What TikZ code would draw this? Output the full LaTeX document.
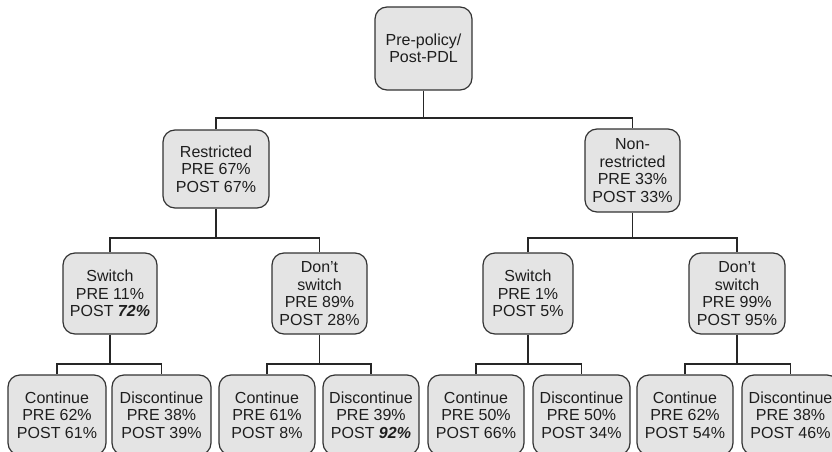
\documentclass[tikz,border=0pt]{standalone}
\usepackage{fontspec}
\setmainfont{Liberation Sans}
\definecolor{boxfill}{HTML}{E4E4E4}
\definecolor{boxline}{HTML}{333333}
\definecolor{txt}{HTML}{1E1E1E}
\tikzset{
  nbox/.style={draw=boxline, fill=boxfill, line width=1.2pt, rounded corners=12pt,
    align=center, inner sep=0pt, text=txt,
    font=\fontsize{16}{17.5}\selectfont},
  conn/.style={draw=black!85, line width=1.1pt},
}
\begin{document}
\begin{tikzpicture}[x=1pt,y=-1pt]
\useasboundingbox (0,0) rectangle (832,452);
\clip (0,0) rectangle (832,452);
% level 0
\node[nbox, minimum width=97pt, minimum height=83pt] (root) at (423.5,48.5) {Pre-policy/\\Post-PDL};
% level 1
\node[nbox, minimum width=106pt, minimum height=78pt] (r) at (216,169) {Restricted\\PRE 67\%\\POST 67\%};
\node[nbox, minimum width=95pt, minimum height=83pt] (nr) at (632.5,170.5) {Non-\\restricted\\PRE 33\%\\POST 33\%};
% level 2
\node[nbox, minimum width=94pt, minimum height=81pt] (rs) at (110,293.5) {Switch\\PRE 11\%\\POST \textbf{\textit{72\%}}};
\node[nbox, minimum width=95pt, minimum height=81pt] (rd) at (319.5,293.5) {Don't\\switch\\PRE 89\%\\POST 28\%};
\node[nbox, minimum width=90pt, minimum height=81pt] (ns) at (528,293.5) {Switch\\PRE 1\%\\POST 5\%};
\node[nbox, minimum width=96pt, minimum height=81pt] (nd) at (737,293.5) {Don't\\switch\\PRE 99\%\\POST 95\%};
% level 3
\node[nbox, minimum width=98pt, minimum height=80pt] (l1) at (57,415) {Continue\\PRE 62\%\\POST 61\%};
\node[nbox, minimum width=99pt, minimum height=80pt] (l2) at (161.5,415) {Discontinue\\PRE 38\%\\POST 39\%};
\node[nbox, minimum width=96pt, minimum height=80pt] (l3) at (267,415) {Continue\\PRE 61\%\\POST 8\%};
\node[nbox, minimum width=96pt, minimum height=80pt] (l4) at (371,415) {Discontinue\\PRE 39\%\\POST \textbf{\textit{92\%}}};
\node[nbox, minimum width=96pt, minimum height=80pt] (l5) at (476,415) {Continue\\PRE 50\%\\POST 66\%};
\node[nbox, minimum width=97pt, minimum height=80pt] (l6) at (581.5,415) {Discontinue\\PRE 50\%\\POST 34\%};
\node[nbox, minimum width=96pt, minimum height=80pt] (l7) at (685,415) {Continue\\PRE 62\%\\POST 54\%};
\node[nbox, minimum width=97pt, minimum height=80pt] (l8) at (790.5,415) {Discontinue\\PRE 38\%\\POST 46\%};
% connectors
\draw[conn] (root.south) -- (root.south |- 0,118);
\draw[conn] (r.north) -- (r.north |- 0,118) -| (nr.north);
\draw[conn] (r.south) -- (r.south |- 0,238);
\draw[conn] (rs.north) -- (rs.north |- 0,238) -| (rd.north);
\draw[conn] (nr.south) -- (nr.south |- 0,238);
\draw[conn] (ns.north) -- (ns.north |- 0,238) -| (nd.north);
\draw[conn] (rs.south) -- (rs.south |- 0,364);
\draw[conn] (l1.north) -- (l1.north |- 0,364) -| (l2.north);
\draw[conn] (rd.south) -- (rd.south |- 0,364);
\draw[conn] (l3.north) -- (l3.north |- 0,364) -| (l4.north);
\draw[conn] (ns.south) -- (ns.south |- 0,364);
\draw[conn] (l5.north) -- (l5.north |- 0,364) -| (l6.north);
\draw[conn] (nd.south) -- (nd.south |- 0,364);
\draw[conn] (l7.north) -- (l7.north |- 0,364) -| (l8.north);
\end{tikzpicture}
\end{document}
